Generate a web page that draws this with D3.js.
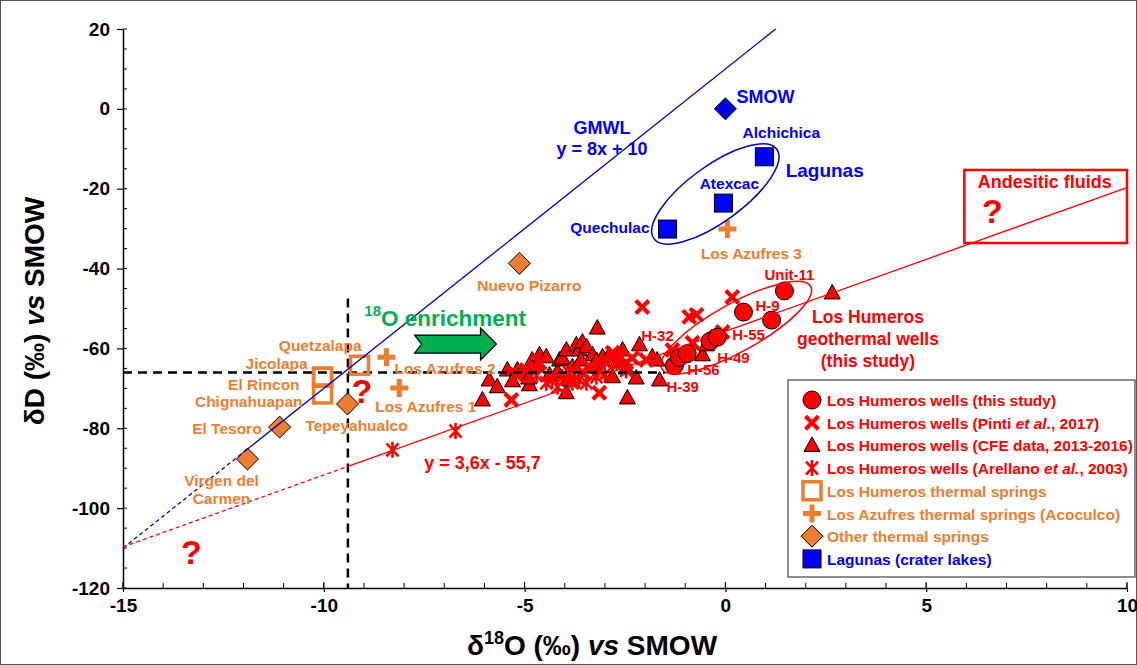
<!DOCTYPE html>
<html>
<head>
<meta charset="utf-8">
<script src="https://cdn.jsdelivr.net/npm/d3@7"></script>
<style>
  html, body { margin: 0; padding: 0; background: #fff; }
  svg { display: block; font-family: "Liberation Sans", Arial, Helvetica, sans-serif; font-weight: bold; }
</style>
</head>
<body>
<svg id="chart" width="1137" height="665"></svg>
<script>
// ---- Isotope data: [δ18O, δD] in ‰ vs SMOW ----
const thisStudyNames = ["H-39", "H-56", "H-32", "H-49", "H-55", "H-9", "", "Unit-11"];
const thisStudy = [[-1.27, -64.3], [-1.15, -62.3], [-0.95, -61.3], [-0.38, -58.2], [-0.2, -57.2], [0.45, -50.9], [1.15, -52.9], [1.47, -45.6]];

const pinti2017 = [[0.17, -47.1], [-0.72, -51.6], [-0.9, -52.1], [-2.07, -49.6], [-0.22, -57.1], [-0.07, -55.9],
  [-0.82, -58.6], [-1.32, -60.4], [-1.22, -62.1], [-1.97, -62.9], [-2.32, -62.4], [-2.47, -63.6], [-2.64, -62.4],
  [-2.81, -61.1], [-2.96, -63.6], [-3.14, -65.4], [-3.39, -64.6], [-3.56, -65.9], [-4.63, -63.6], [-4.96, -65.4],
  [-5.2, -66.6], [-5.33, -72.9], [-3.14, -71.1]];

const cfe2013 = [[-6.05, -72.9], [-5.88, -67.9], [-5.68, -69.6], [-5.43, -65.4], [-5.18, -65.4], [-5.08, -65.9],
  [-4.88, -69.1], [-4.81, -62.9], [-4.63, -61.6], [-4.46, -62.1], [-4.38, -66.6], [-4.18, -65.9], [-4.13, -62.9],
  [-4.06, -62.4], [-3.96, -60.4], [-3.96, -71.1], [-3.88, -67.9], [-3.81, -64.6], [-3.71, -59.1], [-3.64, -60.4],
  [-3.56, -58.4], [-3.46, -59.6], [-3.31, -61.6], [-3.31, -64.6], [-3.19, -54.9], [-3.06, -62.1], [-2.89, -61.6],
  [-2.81, -67.1], [-2.56, -60.4], [-2.47, -64.9], [-2.44, -72.4], [-2.22, -67.4], [-2.14, -59.1], [-1.82, -62.1],
  [-1.64, -67.9], [-0.57, -61.6], [-0.47, -59.1], [2.66, -46.1], [-4.9, -67.4], [-3.6, -62.9], [-2.7, -63.4],
  [-1.7, -62.9], [-5.3, -68.1], [-4.7, -64.4], [-3.2, -63.1]];

const arellano2003 = [[-8.29, -85.4], [-6.72, -80.7], [-4.46, -68.6], [-4.31, -67.9], [-4.18, -69.6], [-4.06, -67.1],
  [-3.88, -66.1], [-3.81, -68.6], [-3.64, -67.9], [-3.46, -68.6], [-3.21, -67.1], [-2.71, -63.6], [-2.47, -65.5],
  [-3.0, -66.5], [-4.7, -66.8]];

const lhSpringNames = ["Quetzalapa", "Jicolapa", "El Rincon", "Chignahuapan"];
const lhSprings = [[-9.11, -64.2], [-10.03, -67.2], [-10.03, -67.2], [-10.03, -71.4]];

const azufresNames = ["Los Azufres 1", "Los Azufres 2", "Los Azufres 3"];
const azufres = [[-8.12, -69.9], [-8.44, -62.2], [0.05, -30.1]];

const otherSpringNames = ["Nuevo Pizarro", "Tepeyahualco", "El Tesoro", "Virgen del Carmen"];
const otherSprings = [[-5.13, -38.7], [-9.41, -73.9], [-11.1, -79.7], [-11.9, -87.7]];

const lagunaNames = ["Alchichica", "Atexcac", "Quechulac"];
const lagunas = [[0.97, -12.0], [-0.05, -23.6], [-1.44, -30.1]];

const smow = [[0, 0]];

// Meteoric and mixing lines: δD = slope·δ18O + intercept
const gmwlCoef = [8, 10];
const gmwlBreaks = [-15, -12, 1.25];       // dashed, then solid
const mixCoef = [3.6, -55.7];
const mixBreaks = [-15, -9.4, 10];

// Reference cross-hairs
const refO = -9.4, refD = -66;
const refDTop = -47.5, refOEnd = -1.5;

// Axis ticks
const xMajor = [-15, -10, -5, 0, 5, 10];
const yMajor = [-120, -100, -80, -60, -40, -20, 0, 20];

// ---- Layout ----
const W = 1137, H = 665;
const svg = d3.select("#chart");
const x = d3.scaleLinear().domain([-15, 10]).range([123, 1127]);
const y = d3.scaleLinear().domain([-120, 20]).range([588, 29]);

const RED = "#ff0000", ORANGE = "#ed7d31", BLUE = "#0000ff", GREEN = "#00b050";

svg.append("rect").attr("x", 0.5).attr("y", 0.5).attr("width", W - 1).attr("height", H - 1)
  .attr("fill", "#fff").attr("stroke", "#555").attr("stroke-width", 1);

// ---- Axes ----
const fmt = d => String(d);
const gx = svg.append("g").attr("transform", `translate(0,${y(-120)})`);
gx.call(d3.axisBottom(x).tickValues(xMajor).tickSizeInner(4).tickSizeOuter(0).tickPadding(7).tickFormat(fmt));
gx.call(g => g.selectAll(".minor").data(d3.range(-15, 10.01, 1)).join("line").attr("class", "minor")
  .attr("x1", d => x(d)).attr("x2", d => x(d)).attr("y1", 0).attr("y2", -5).attr("stroke", "#000"));
gx.call(g => g.selectAll(".majin").data(xMajor).join("line").attr("class", "majin")
  .attr("x1", d => x(d)).attr("x2", d => x(d)).attr("y1", 0).attr("y2", -6).attr("stroke", "#000"));

const gy = svg.append("g").attr("transform", `translate(${x(-15)},0)`);
gy.call(d3.axisLeft(y).tickValues(yMajor).tickSizeInner(6).tickSizeOuter(0).tickPadding(7).tickFormat(fmt));
gy.call(g => g.selectAll(".minor").data(d3.range(-120, 20.01, 5)).join("line").attr("class", "minor")
  .attr("y1", d => y(d)).attr("y2", d => y(d)).attr("x1", 0).attr("x2", 4).attr("stroke", "#000"));

svg.selectAll(".domain").attr("stroke", "#000").attr("stroke-width", 1.5);
svg.selectAll(".tick line").attr("stroke", "#000").attr("stroke-width", 1.2);
svg.selectAll(".tick text").attr("font-family", "'Liberation Sans', Arial, sans-serif")
  .attr("font-weight", "bold").attr("font-size", 19).attr("fill", "#000");

// Axis titles
const xt = svg.append("text").attr("x", 592).attr("y", 655).attr("text-anchor", "middle")
  .attr("font-size", 28).attr("fill", "#000");
xt.append("tspan").text("δ");
xt.append("tspan").attr("font-size", 18).attr("dy", -11).text("18");
xt.append("tspan").attr("dy", 11).text("O (‰) ");
xt.append("tspan").attr("font-style", "italic").text("vs");
xt.append("tspan").text(" SMOW");

const yt = svg.append("text").attr("transform", "translate(44,311) rotate(-90)").attr("text-anchor", "middle")
  .attr("font-size", 28).attr("fill", "#000");
yt.append("tspan").text("δD (‰) ");
yt.append("tspan").attr("font-style", "italic").text("vs");
yt.append("tspan").text(" SMOW");

// ---- Marker shapes ----
const plot = svg.append("g");
function circleMark(g) { g.append("circle").attr("r", 9).attr("fill", RED).attr("stroke", "#000").attr("stroke-width", 1); }
function xMark(g) {
  g.append("path").attr("d", "M-6.5,-6.5L6.5,6.5M-6.5,6.5L6.5,-6.5").attr("stroke", RED).attr("stroke-width", 4.2).attr("fill", "none");
}
function triMark(g) {
  g.append("path").attr("d", "M0,-8.5L8,6L-8,6Z").attr("fill", RED).attr("stroke", "#000").attr("stroke-width", 1);
}
function starMark(g) {
  g.append("path").attr("d", "M-6,-6.5L6,6.5M-6,6.5L6,-6.5M0,-8L0,8").attr("stroke", RED).attr("stroke-width", 2.6).attr("fill", "none");
}
function openSquare(g) {
  g.append("rect").attr("x", -9).attr("y", -9).attr("width", 18).attr("height", 18)
    .attr("fill", "none").attr("stroke", ORANGE).attr("stroke-width", 3.5);
}
function plusMark(g) {
  g.append("path").attr("d", "M-9,0L9,0M0,-9L0,9").attr("stroke", ORANGE).attr("stroke-width", 5).attr("fill", "none");
}
function diamondMark(fill) {
  return g => g.append("path").attr("d", "M0,-11L11,0L0,11L-11,0Z").attr("fill", fill).attr("stroke", "#000").attr("stroke-width", 1);
}
function blueSquare(g) {
  g.append("rect").attr("x", -9).attr("y", -9).attr("width", 18).attr("height", 18)
    .attr("fill", BLUE).attr("stroke", "#000").attr("stroke-width", 1);
}

function drawSeries(data, shape) {
  plot.append("g").selectAll("g").data(data).join("g")
    .attr("transform", d => `translate(${x(d[0])},${y(d[1])})`)
    .each(function () { shape(d3.select(this)); });
}

drawSeries(cfe2013, triMark);
drawSeries(arellano2003, starMark);
drawSeries(pinti2017, xMark);

// Reference cross-hairs (dashed)
plot.append("line").attr("x1", x(-15)).attr("x2", x(refOEnd)).attr("y1", y(refD)).attr("y2", y(refD))
  .attr("stroke", "#000").attr("stroke-width", 2.5).attr("stroke-dasharray", "9,6");
plot.append("line").attr("x1", x(refO)).attr("x2", x(refO)).attr("y1", y(refDTop)).attr("y2", y(-120))
  .attr("stroke", "#000").attr("stroke-width", 2.5).attr("stroke-dasharray", "9,6");

drawSeries(thisStudy, circleMark);
drawSeries(lhSprings, openSquare);
drawSeries(azufres, plusMark);
drawSeries(otherSprings, diamondMark(ORANGE));
drawSeries(lagunas, blueSquare);
drawSeries(smow, diamondMark("#0000e0"));

// ---- Lines ----
function eqLine(coef, breaks, color) {
  const f = v => coef[0] * v + coef[1];
  const line = d3.line().x(d => x(d)).y(d => y(f(d)));
  plot.append("path").attr("d", line([breaks[0], breaks[1]])).attr("fill", "none")
    .attr("stroke", color).attr("stroke-width", 1.3).attr("stroke-dasharray", "4,3");
  plot.append("path").attr("d", line([breaks[1], breaks[2]])).attr("fill", "none")
    .attr("stroke", color).attr("stroke-width", 1.3);
}
eqLine(gmwlCoef, gmwlBreaks, "#0000cc");
eqLine(mixCoef, mixBreaks, RED);

// Grouping ellipses: centre in data units, radii in px, rotation in degrees
const ellipses = [
  { c: [-0.25, -21.3], rx: 76, ry: 28, rot: -36, color: "#0000cc" },
  { c: [0.27, -54.8], rx: 85, ry: 24, rot: -29, color: RED }
];
plot.selectAll(".ell").data(ellipses).join("ellipse").attr("class", "ell")
  .attr("transform", d => `translate(${x(d.c[0])},${y(d.c[1])}) rotate(${d.rot})`)
  .attr("rx", d => d.rx).attr("ry", d => d.ry)
  .attr("fill", "none").attr("stroke", d => d.color).attr("stroke-width", 1.5);

// ---- Point labels (offset from their point, px) ----
function pointLabels(names, data, offsets, color, size) {
  names.forEach((n, i) => {
    const o = offsets[n];
    if (!o) return;
    const t = plot.append("text").attr("x", x(data[i][0]) + o[0]).attr("y", y(data[i][1]) + o[1])
      .attr("text-anchor", o[2] || "start").attr("dominant-baseline", "central")
      .attr("font-size", size).attr("fill", color);
    const lines = n === "Virgen del Carmen" ? ["Virgen del", "Carmen"] : [n];
    lines.forEach((s, k) => t.append("tspan").attr("x", x(data[i][0]) + o[0]).attr("dy", k ? 18 : 0).text(s));
  });
}
pointLabels(thisStudyNames, thisStudy, {
  "Unit-11": [5, -17, "middle"], "H-9": [12, -7], "H-55": [15, -3], "H-49": [7, 16],
  "H-56": [8, 11], "H-39": [-8, 20], "H-32": [-46, -19]
}, RED, 15);
pointLabels(lhSpringNames, lhSprings, {
  "Quetzalapa": [2, -20, "end"], "Jicolapa": [-15, -14, "end"], "El Rincon": [-23, 7, "end"], "Chignahuapan": [-20, 7, "end"]
}, ORANGE, 15.5);
pointLabels(azufresNames, azufres, {
  "Los Azufres 1": [-24, 18], "Los Azufres 2": [8, 11], "Los Azufres 3": [24, 24, "middle"]
}, ORANGE, 15.5);
pointLabels(otherSpringNames, otherSprings, {
  "Nuevo Pizarro": [10, 22, "middle"], "Tepeyahualco": [9, 21, "middle"], "El Tesoro": [-18, 1, "end"],
  "Virgen del Carmen": [-26, 21, "middle"]
}, ORANGE, 15.5);
pointLabels(lagunaNames, lagunas, {
  "Alchichica": [17, -25, "middle"], "Atexcac": [6, -20, "middle"], "Quechulac": [-18, -2, "end"]
}, BLUE, 15.5);
pointLabels(["SMOW"], smow, { "SMOW": [11, -12] }, BLUE, 18);

// ---- Free annotations (anchored in data units) ----
const notes = [
  { at: [-3.07, -4.9], lines: ["GMWL", "y = 8x + 10"], color: BLUE, size: 18, anchor: "middle", gap: 21 },
  { at: [1.5, -15.3], lines: ["Lagunas"], color: BLUE, size: 19, anchor: "start" },
  { at: [3.55, -52.2], lines: ["Los Humeros", "geothermal wells", "(this study)"], color: RED, size: 17.5, anchor: "middle", gap: 22 },
  { at: [-7.5, -88.8], lines: ["y = 3,6x - 55,7"], color: RED, size: 18, anchor: "start" },
  { at: [-9.05, -70.6], lines: ["?"], color: RED, size: 34, anchor: "middle" },
  { at: [-13.3, -111], lines: ["?"], color: RED, size: 34, anchor: "middle" },
  { at: [6.65, -25.6], lines: ["?"], color: RED, size: 34, anchor: "middle" },
  { at: [7.95, -18.3], lines: ["Andesitic fluids"], color: RED, size: 18, anchor: "middle" }
];
notes.forEach(n => {
  const t = plot.append("text").attr("x", x(n.at[0])).attr("y", y(n.at[1]))
    .attr("text-anchor", n.anchor).attr("dominant-baseline", "central")
    .attr("font-size", n.size).attr("fill", n.color);
  n.lines.forEach((s, k) => t.append("tspan").attr("x", x(n.at[0])).attr("dy", k ? n.gap : 0).text(s));
});

// Andesitic end-member box
const andBox = { o: [5.95, 10], d: [-15.3, -33.6] };
plot.append("rect").attr("x", x(andBox.o[0])).attr("y", y(andBox.d[0]))
  .attr("width", x(andBox.o[1]) - x(andBox.o[0])).attr("height", y(andBox.d[1]) - y(andBox.d[0]))
  .attr("fill", "none").attr("stroke", RED).attr("stroke-width", 2.5);

// 18O enrichment arrow
const arrow = { from: -7.74, to: -5.7, at: -58.9 };
{
  const x0 = x(arrow.from), x1 = x(arrow.to), cy = y(arrow.at);
  const bh = 9, hh = 16, hl = 16, notch = 7;
  const pts = [[x0, cy - bh], [x1 - hl, cy - bh], [x1 - hl, cy - hh], [x1, cy], [x1 - hl, cy + hh],
    [x1 - hl, cy + bh], [x0, cy + bh], [x0 + notch, cy]];
  plot.append("path").attr("d", "M" + pts.join("L") + "Z").attr("fill", GREEN).attr("stroke", "#000").attr("stroke-width", 1.2);
  const t = plot.append("text").attr("x", x(-8.99)).attr("y", y(-52.5)).attr("dominant-baseline", "central")
    .attr("font-size", 22.5).attr("fill", GREEN);
  t.append("tspan").attr("font-size", 15).attr("dy", -8).text("18");
  t.append("tspan").attr("dy", 8).text("O enrichment");
}

// ---- Legend ----
const legendItems = [
  { shape: circleMark, color: RED, parts: [["Los Humeros wells (this study)"]] },
  { shape: xMark, color: RED, parts: [["Los Humeros wells (Pinti "], ["et al.", "italic"], [", 2017)"]] },
  { shape: triMark, color: RED, parts: [["Los Humeros wells (CFE data, 2013-2016)"]] },
  { shape: starMark, color: RED, parts: [["Los Humeros wells (Arellano "], ["et al.", "italic"], [", 2003)"]] },
  { shape: openSquare, color: ORANGE, parts: [["Los Humeros thermal springs"]] },
  { shape: plusMark, color: ORANGE, parts: [["Los Azufres thermal springs (Acoculco)"]] },
  { shape: diamondMark(ORANGE), color: ORANGE, parts: [["Other thermal springs"]] },
  { shape: blueSquare, color: BLUE, parts: [["Lagunas (crater lakes)"]] }
];
const lg = svg.append("g");
lg.append("rect").attr("x", 788).attr("y", 380).attr("width", 347).attr("height", 197)
  .attr("fill", "#fff").attr("stroke", "#444").attr("stroke-width", 1.2);
legendItems.forEach((it, i) => {
  const cy = 400 + i * 22.7;
  const g = lg.append("g").attr("transform", `translate(812,${cy})`);
  it.shape(g);
  const t = lg.append("text").attr("x", 827).attr("y", cy).attr("dominant-baseline", "central")
    .attr("font-size", 15.5).attr("fill", it.color);
  it.parts.forEach(p => t.append("tspan").attr("font-style", p[1] || "normal").text(p[0]));
});
</script>
</body>
</html>
